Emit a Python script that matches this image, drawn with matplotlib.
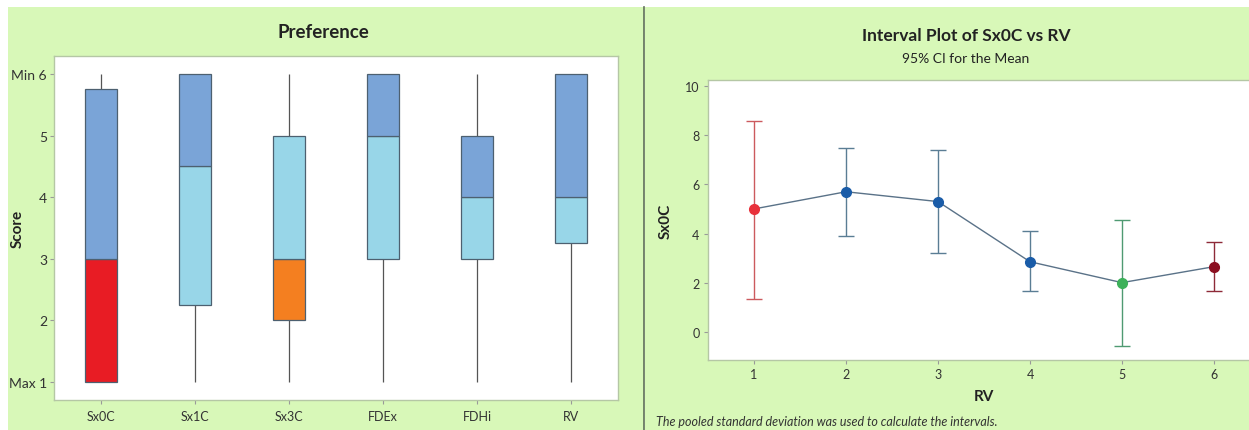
import matplotlib
matplotlib.use("Agg")
import matplotlib.pyplot as plt
from matplotlib.patches import Rectangle
from matplotlib.lines import Line2D

plt.rcParams['font.family'] = ['Lato', 'DejaVu Sans']

# ---------------- data: left panel (box plot) ----------------
groups = ["Sx0C", "Sx1C", "Sx3C", "FDEx", "FDHi", "RV"]
mins = [1, 1, 1, 1, 1, 1]
q1 = [1, 2.25, 2, 3, 3, 3.25]
medians = [3, 4.5, 3, 5, 4, 4]
q3 = [5.75, 6, 5, 6, 5, 6]
maxs = [6, 6, 6, 6, 6, 6]
lower_colors = ["#e81c24", "#98d6e8", "#f47f20", "#98d6e8", "#98d6e8", "#98d6e8"]
upper_colors = ["#7aa4d7", "#7aa4d7", "#98d6e8", "#7aa4d7", "#7aa4d7", "#7aa4d7"]
score_ticks = [1, 2, 3, 4, 5, 6]
score_labels = ["Max 1", "2", "3", "4", "5", "Min 6"]

# ---------------- data: right panel (interval plot) ----------------
rv = [1, 2, 3, 4, 5, 6]
means = [5.0, 5.7, 5.3, 2.85, 2.0, 2.65]
ci_low = [1.35, 3.9, 3.2, 1.65, -0.6, 1.65]
ci_high = [8.6, 7.5, 7.4, 4.1, 4.55, 3.65]
marker_colors = ["#e8303a", "#1a5ca8", "#1a5ca8", "#1a5ca8", "#3db15a", "#8b0e20"]
bar_colors = ["#cc5a5e", "#5a7d94", "#5a7d94", "#5a7d94", "#4f9a72", "#8e2a38"]

W, H = 1249, 431
fig = plt.figure(figsize=(W / 100, H / 100), dpi=100)
fig.patch.set_facecolor("white")

GREEN = "#d8f8b8"
def px_rect(x0, y0, x1, y1, **kw):
    return Rectangle((x0 / W, 1 - y1 / H), (x1 - x0) / W, (y1 - y0) / H,
                     transform=fig.transFigure, **kw)

fig.patches.append(px_rect(8, 8, 644, 431, facecolor=GREEN, edgecolor="none", zorder=-10))
fig.patches.append(px_rect(645, 8, 1249, 431, facecolor=GREEN, edgecolor="none", zorder=-10))
fig.lines.append(Line2D([644 / W, 644 / W], [0, 1 - 8 / H], transform=fig.transFigure,
                        color="#5f6f58", lw=1.2, zorder=-5))

def px_axes(x0, y0, x1, y1):
    return fig.add_axes([x0 / W, 1 - y1 / H, (x1 - x0) / W, (y1 - y0) / H])

SPINE = "#b5c7a5"
TXT = "#333333"

# ---------------- left panel ----------------
ax = px_axes(54, 57, 618, 401)
ax.set_facecolor("white")
pos = list(range(1, len(groups) + 1))
w = 0.33
ax.vlines(pos, mins, q1, color="#555555", lw=0.9, zorder=1)
ax.vlines(pos, q3, maxs, color="#555555", lw=0.9, zorder=1)
ax.bar(pos, [m - a for m, a in zip(medians, q1)], bottom=q1, width=w,
       color=lower_colors, edgecolor="#4d6070", linewidth=0.9, zorder=2)
ax.bar(pos, [b - m for b, m in zip(q3, medians)], bottom=medians, width=w,
       color=upper_colors, edgecolor="#4d6070", linewidth=0.9, zorder=2)
ax.set_xlim(0.5, 6.5)
ax.set_ylim(0.71, 6.29)
ax.set_xticks(pos)
ax.set_xticklabels(groups, fontsize=9, color=TXT)
ax.set_yticks(score_ticks)
ax.set_yticklabels(score_labels, fontsize=10, color=TXT)
ax.tick_params(axis="both", length=3, color="#999999", pad=2)
ax.tick_params(axis="x", pad=4)
for s in ax.spines.values():
    s.set_color(SPINE)
    s.set_linewidth(1.0)
ax.set_ylabel("Score", fontsize=11, fontweight="bold", color="#222222")
ax.yaxis.set_label_coords((25 - 54) / 564, 0.5)
fig.text(323 / W, 1 - 32 / H, "Preference", ha="center", va="center",
         fontsize=13.5, fontweight="bold", color="#222222")

# ---------------- right panel ----------------
ax2 = px_axes(708, 81, 1260, 361)
ax2.set_facecolor("white")
ax2.plot(rv, means, color="#5a7288", lw=1.0, zorder=2)
for x, m, lo, hi, mc, bc in zip(rv, means, ci_low, ci_high, marker_colors, bar_colors):
    ax2.errorbar([x], [m], yerr=[[m - lo], [hi - m]], fmt="none", ecolor=bc,
                 elinewidth=1.0, capsize=6, capthick=1.0, zorder=1)
    ax2.plot([x], [m], "o", color=mc, markersize=7, zorder=3)
ax2.set_xlim(0.5, 6.5)
ax2.set_ylim(-1.15, 10.25)
ax2.set_xticks(rv)
ax2.set_xticklabels([str(v) for v in rv], fontsize=9, color=TXT)
ax2.set_yticks([0, 2, 4, 6, 8, 10])
ax2.tick_params(axis="both", length=3, color="#999999", labelsize=9, labelcolor=TXT, pad=3)
for s in ax2.spines.values():
    s.set_color(SPINE)
    s.set_linewidth(1.0)
ax2.spines["right"].set_visible(False)
ax2.set_xlabel("RV", fontsize=11, fontweight="bold", color="#222222", labelpad=6)
ax2.set_ylabel("Sx0C", fontsize=11, fontweight="bold", color="#222222")
ax2.yaxis.set_label_coords((673 - 708) / 552, 0.5)
fig.text(966 / W, 1 - 36 / H, "Interval Plot of Sx0C vs RV", ha="center", va="center",
         fontsize=12.5, fontweight="bold", color="#222222")
fig.text(966 / W, 1 - 59 / H, "95% CI for the Mean", ha="center", va="center",
         fontsize=10, color="#222222")
fig.text(656 / W, 1 - 422 / H, "The pooled standard deviation was used to calculate the intervals.",
         ha="left", va="center", fontsize=9, style="italic", color="#333333")

fig.savefig("out.png", dpi=100, facecolor=fig.get_facecolor())
